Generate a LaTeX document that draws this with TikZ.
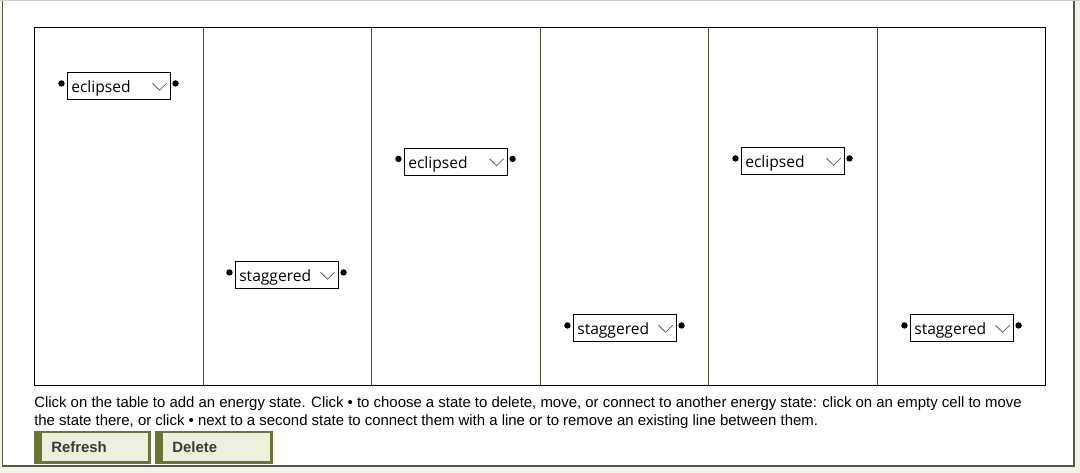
\documentclass[tikz,border=0pt]{standalone}
\usepackage{fontspec}
\setmainfont{Liberation Sans}
\newfontfamily\ddfont{Open Sans}
\definecolor{cream}{HTML}{F4F4E6}
\definecolor{frameol}{HTML}{55574A}
\definecolor{divol}{HTML}{4A4A2E}
\definecolor{btnol}{HTML}{6B7335}
\definecolor{btnfill}{HTML}{EEF0DE}
\definecolor{btntext}{HTML}{3A3A3A}
\definecolor{chev}{HTML}{606060}
\begin{document}
\begin{tikzpicture}[x=0.75pt,y=-0.75pt,
  dd/.style={draw=black,line width=0.75pt,fill=white,minimum width=77.25pt,minimum height=20.25pt,inner sep=0pt},
  ddtext/.style={font=\ddfont\fontsize{11.7pt}{13pt}\selectfont,inner sep=0pt,anchor=west},
  desc/.style={font=\fontsize{11.2pt}{13pt}\selectfont,inner sep=0pt,anchor=base west,text=black},
  btntxt/.style={font=\bfseries\fontsize{11.2pt}{12pt}\selectfont,inner sep=0pt,anchor=base west,text=btntext}]
\useasboundingbox (0,0) rectangle (1080,473);
\fill[cream] (0,0) rectangle (1080,473);
\fill[white] (2.5,1) rectangle (1074,466);
\draw[frameol,line width=1.1pt] (2.5,1) -- (2.5,466) -- (1074,466) -- (1074,1);
\draw[gray!40,line width=1pt] (0,0.6) -- (1080,0.6);
% table
\draw[black,line width=0.8pt] (34.5,27.5) rectangle (1045.5,385.5);
\foreach \xx in {203.5,371.5,540.5,708.5,877.5}{
  \draw[divol,line width=0.8pt] (\xx,27.5) -- (\xx,385.5);
}
% dropdowns
\foreach \nm/\cx/\cy/\lab in {d1/118.5/86.5/eclipsed, d2/286.5/275.5/staggered, d3/455.5/162/eclipsed, d4/624.5/328.5/staggered, d5/792.5/161.5/eclipsed, d6/961.5/328.5/staggered}{
  \node[dd] (\nm) at (\cx,\cy) {};
  \node[ddtext] (\nm t) at ([xshift=3.4pt,yshift=-1.5pt]\nm.west) {\lab};
  \draw[chev,line width=0.6pt] ([xshift=-13.5pt,yshift=2.4pt]\nm.east) -- ([xshift=-8.2pt,yshift=-2.8pt]\nm.east) -- ([xshift=-2.9pt,yshift=2.4pt]\nm.east);
  \fill[black] ([xshift=-3.8pt,yshift=2.3pt]\nm.west) circle (2.4pt);
  \fill[black] ([xshift=3.8pt,yshift=2.3pt]\nm.east) circle (2.4pt);
}
% description
\node[desc] (l1) at (34,407) {Click on the table to add an energy state. Click \textbullet\ to choose a state to delete, move, or connect to another energy state: click on an empty cell to move};
\node[desc] (l2) at (34,425) {the state there, or click \textbullet\ next to a second state to connect them with a line or to remove an existing line between them.};
% buttons
\fill[btnol] (34,431) rectangle (151,464);
\fill[btnfill] (42,433) rectangle (148,461);
\node[btntxt] (b1) at (51,452.5) {Refresh};
\fill[btnol] (155,431) rectangle (273,464);
\fill[btnfill] (163,433) rectangle (270,461);
\node[btntxt] (b2) at (172,452.5) {Delete};
\end{tikzpicture}
\end{document}
